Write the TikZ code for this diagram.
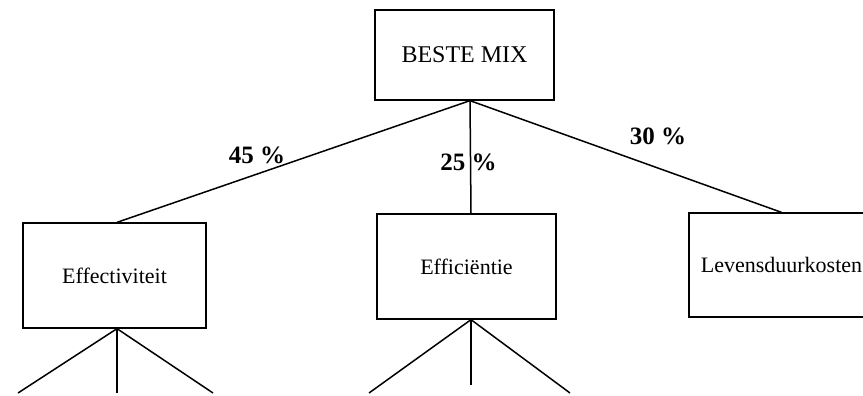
\documentclass[tikz,border=0pt]{standalone}
\usepackage{fontspec}
\setmainfont{Liberation Serif}
\begin{document}
\begin{tikzpicture}[x=1pt,y=-1pt,
  box/.style={draw, line width=1.3pt, inner sep=0pt, font=\fontsize{22}{26}\selectfont},
  conn/.style={line width=1.5pt},
  pct/.style={inner sep=0pt, font=\bfseries\fontsize{25}{28}\selectfont}]
\useasboundingbox (0,0) rectangle (863,396);
\clip (0,0) rectangle (863,396);
\node[box, minimum width=179pt, minimum height=90pt, font=\fontsize{24}{28}\selectfont] (top) at (464.5,55) {BESTE MIX};
\node[box, minimum width=183pt, minimum height=105pt] (eff) at (114.5,275.5) {Effectiviteit};
\node[box, minimum width=179pt, minimum height=105pt] (effi) at (466.5,266.5) {Efficiëntie};
\node[box, minimum width=185pt, minimum height=104pt] (lev) at (781.5,265) {Levensduurkosten};
\coordinate (apex) at ([xshift=5.5pt]top.south);
\coordinate (effTop) at ([xshift=2.5pt]eff.north);
\coordinate (effiTop) at ([xshift=4.5pt]effi.north);
\coordinate (effBot) at ([xshift=2.5pt]eff.south);
\coordinate (effiBot) at ([xshift=4.5pt]effi.south);
\draw[conn] (apex) -- (effTop);
\draw[conn] (apex) -- (effiTop);
\draw[conn] (apex) -- (lev.north);
\coordinate (e1) at (18,393);
\coordinate (e2) at (117,393);
\coordinate (e3) at (213,393);
\coordinate (f1) at (369,393);
\coordinate (f2) at (471,385);
\coordinate (f3) at (570,393);
\draw[conn] (effBot) -- (e1);
\draw[conn] (effBot) -- (e2);
\draw[conn] (effBot) -- (e3);
\draw[conn] (effiBot) -- (f1);
\draw[conn] (effiBot) -- (f2);
\draw[conn] (effiBot) -- (f3);
\node[pct] (p45) at (257,155) {45 \%};
\node[pct] (p25) at (468.5,162) {25 \%};
\node[pct] (p30) at (658,136) {30 \%};
\end{tikzpicture}
\end{document}
